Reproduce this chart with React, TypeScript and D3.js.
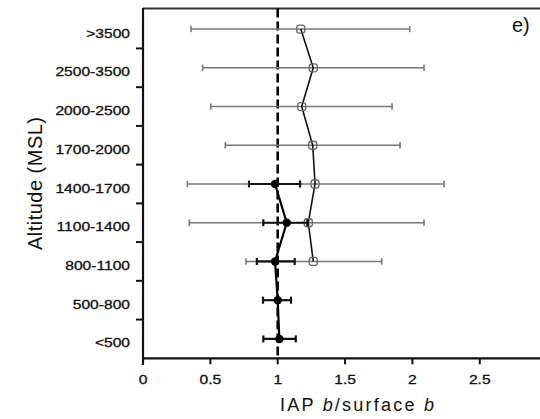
import React from "react";
import * as d3 from "d3";

const categories = [">3500", "2500-3500", "2000-2500", "1700-2000", "1400-1700", "1100-1400", "800-1100", "500-800", "<500"];

// IAP (open markers, grey bars)
const iapMean: (number | null)[] = [1.171, 1.264, 1.178, 1.26, 1.277, 1.227, 1.264, null, null];
const iapLow: (number | null)[] = [0.356, 0.443, 0.503, 0.611, 0.329, 0.344, 0.765, null, null];
const iapHigh: (number | null)[] = [1.98, 2.086, 1.849, 1.908, 2.235, 2.086, 1.772, null, null];

// Tower/aircraft (filled markers, black bars)
const blkMean: (number | null)[] = [null, null, null, null, 0.98, 1.067, 0.98, 1.0, 1.012];
const blkLow: (number | null)[] = [null, null, null, null, 0.787, 0.893, 0.845, 0.891, 0.893];
const blkHigh: (number | null)[] = [null, null, null, null, 1.166, 1.22, 1.126, 1.099, 1.134];

const xTicks = [0, 0.5, 1, 1.5, 2, 2.5];
const xTickLabels = ["0", "0.5", "1", "1.5", "2", "2.5"];
const refValue = 1;
const panelLabel = "e)";

const W = 540;
const H = 419;
const LEFT = 143;
const RIGHT = 540;
const TOP = 9.7;
const BOTTOM = 358.3;

export default function App() {
  const x = d3.scaleLinear().domain([0, 2.947]).range([LEFT, RIGHT]);
  const y = d3.scaleBand<string>().domain(categories).range([TOP, BOTTOM]).padding(0);
  const yc = (c: string) => (y(c) as number) + y.bandwidth() / 2;

  const font = "'Liberation Sans', Arial, Helvetica, sans-serif";

  const iapPts = categories
    .map((c, i) => ({ c, v: iapMean[i] }))
    .filter((d) => d.v != null) as { c: string; v: number }[];
  const blkPts = categories
    .map((c, i) => ({ c, v: blkMean[i] }))
    .filter((d) => d.v != null) as { c: string; v: number }[];

  const line = d3
    .line<{ c: string; v: number }>()
    .x((d) => x(d.v))
    .y((d) => yc(d.c));

  const boundaries = categories.slice(1).map((c) => y(c) as number);

  const errBar = (lo: number, hi: number, cy: number, color: string, sw: number, capH: number, key: string) => (
    <g key={key} stroke={color} strokeWidth={sw}>
      <line x1={x(lo)} x2={x(hi)} y1={cy} y2={cy} />
      <line x1={x(lo)} x2={x(lo)} y1={cy - capH} y2={cy + capH} />
      <line x1={x(hi)} x2={x(hi)} y1={cy - capH} y2={cy + capH} />
    </g>
  );

  return (
    <svg width={W} height={H} style={{ position: "absolute", left: 0, top: 0, background: "#fff" }} fontFamily={font}>
      <rect x={0} y={0} width={W} height={H} fill="#fff" />
      {/* top frame */}
      <line x1={LEFT} x2={RIGHT} y1={8.5} y2={8.5} stroke="#333" strokeWidth={2} />
      {/* dashed reference */}
      <line x1={x(refValue)} x2={x(refValue)} y1={8.5} y2={BOTTOM} stroke="#000" strokeWidth={2.6} strokeDasharray="9,4" />

      {/* IAP error bars */}
      {categories.map((c, i) =>
        iapMean[i] != null ? errBar(iapLow[i] as number, iapHigh[i] as number, yc(c), "#777", 1.6, 3.2, "g" + i) : null
      )}
      <path d={line(iapPts) || ""} fill="none" stroke="#111" strokeWidth={1.6} />
      {iapPts.map((d, i) => (
        <rect key={"m" + i} x={x(d.v) - 4} y={yc(d.c) - 4} width={8} height={8} rx={2.5} fill="none" stroke="#666" strokeWidth={1.3} />
      ))}

      {/* black error bars */}
      {categories.map((c, i) =>
        blkMean[i] != null ? errBar(blkLow[i] as number, blkHigh[i] as number, yc(c), "#111", 2.2, 3.5, "b" + i) : null
      )}
      <path d={line(blkPts) || ""} fill="none" stroke="#000" strokeWidth={2.2} />
      {blkPts.map((d, i) => (
        <circle key={"k" + i} cx={x(d.v)} cy={yc(d.c)} r={4.2} fill="#000" />
      ))}

      {/* axes */}
      <line x1={LEFT} x2={LEFT} y1={8} y2={365} stroke="#111" strokeWidth={2.2} />
      <line x1={LEFT} x2={RIGHT} y1={BOTTOM} y2={BOTTOM} stroke="#111" strokeWidth={2.2} />
      {boundaries.map((b, i) => (
        <line key={"yt" + i} x1={LEFT - 7} x2={LEFT} y1={b} y2={b} stroke="#111" strokeWidth={2} />
      ))}
      {xTicks.map((t, i) => (
        <line key={"xt" + i} x1={x(t)} x2={x(t)} y1={BOTTOM} y2={BOTTOM + 6} stroke="#111" strokeWidth={2} />
      ))}
      {xTicks.map((t, i) => (
        <text
          key={"xl" + i}
          transform={`translate(${x(t)},383.5) scale(1.3,1)`}
          textAnchor="middle"
          fontSize={12}
          fill="#111"
          stroke="#111"
          strokeWidth={0.3}
        >
          {xTickLabels[i]}
        </text>
      ))}
      {categories.map((c, i) => (
        <text
          key={"yl" + i}
          transform={`translate(130,${yc(c) + 8.5}) scale(1.3,1)`}
          textAnchor="end"
          fontSize={12}
          fill="#111"
          stroke="#111"
          strokeWidth={0.3}
        >
          {c}
        </text>
      ))}

      {/* titles */}
      <text x={280} y={410.5} fontSize={18} fill="#111" textLength={154} lengthAdjust="spacing">
        IAP <tspan fontStyle="italic">b</tspan>/surface <tspan fontStyle="italic">b</tspan>
      </text>
      <text transform="translate(42,183.5) rotate(-90)" textAnchor="middle" fontSize={20} fill="#111" textLength={133} lengthAdjust="spacing">
        Altitude (MSL)
      </text>
      <text x={512} y={32} fontSize={20} fill="#111">
        {panelLabel}
      </text>
    </svg>
  );
}
